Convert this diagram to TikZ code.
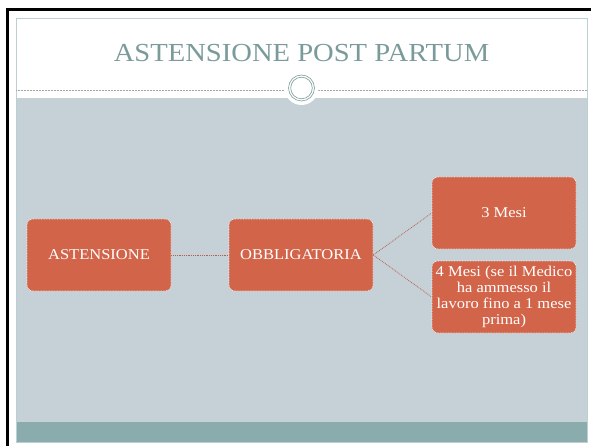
\documentclass[tikz,border=0pt]{standalone}
\usepackage{fontspec}
\setmainfont{Liberation Serif}[FakeStretch=1.1]
\definecolor{bodygrey}{HTML}{C5D1D7}
\definecolor{bandteal}{HTML}{8AACAC}
\definecolor{titlecol}{HTML}{7B9B9B}
\definecolor{framecol}{HTML}{BCCFD3}
\definecolor{boxfill}{HTML}{D2644A}
\definecolor{linkcol}{HTML}{B5604E}
\definecolor{ringcol}{HTML}{7E9C9C}
\tikzset{
  sbox/.style={fill=boxfill, draw=white, densely dotted, line width=0.6pt, rounded corners=6pt,
    minimum width=144pt, minimum height=72pt, text=white, font=\fontsize{15}{16}\selectfont,
    align=center, inner sep=2pt},
  link/.style={draw=linkcol, densely dotted, line width=0.8pt}
}
\begin{document}
\begin{tikzpicture}[x=1pt,y=-1pt]
\useasboundingbox (0,0) rectangle (591,446);
\fill[white] (0,0) rectangle (591,446);
% outer black border
\fill[black] (6,8) rectangle (9,446);
\fill[black] (6,8) rectangle (591,11);
% slide
\fill[white] (16,18) rectangle (587,98);
\fill[bodygrey] (16,98) rectangle (587,422);
\fill[bandteal] (16,422) rectangle (587,442);
\draw[framecol, line width=0.8pt] (16,18) rectangle (587,442);
% header dotted line
\draw[gray!70, densely dotted, line width=0.5pt] (16,90.5) -- (587,90.5);
% ornament circle
\fill[white] (301.5,88) circle (17);
\draw[ringcol, line width=0.6pt] (301.5,88) circle (13);
\draw[ringcol, line width=0.6pt] (301.5,88) circle (10.8);
% title
\node[text=titlecol, font=\fontsize{26}{30}\selectfont] (title) at (301.5,53) {ASTENSIONE POST PARTUM};
% boxes
\node[sbox] (ast) at (99,255) {ASTENSIONE};
\node[sbox] (obb) at (301,255) {OBBLIGATORIA};
\node[sbox] (tre) at (504,213) {3 Mesi};
\node[sbox] (quattro) at (504,297) {4 Mesi (se il Medico\\ha ammesso il\\lavoro fino a 1 mese\\prima)};
% connectors
\draw[link] (ast.east) -- (obb.west);
\draw[link] (obb.east) -- (tre.west);
\draw[link] (obb.east) -- (quattro.west);
\end{tikzpicture}
\end{document}
